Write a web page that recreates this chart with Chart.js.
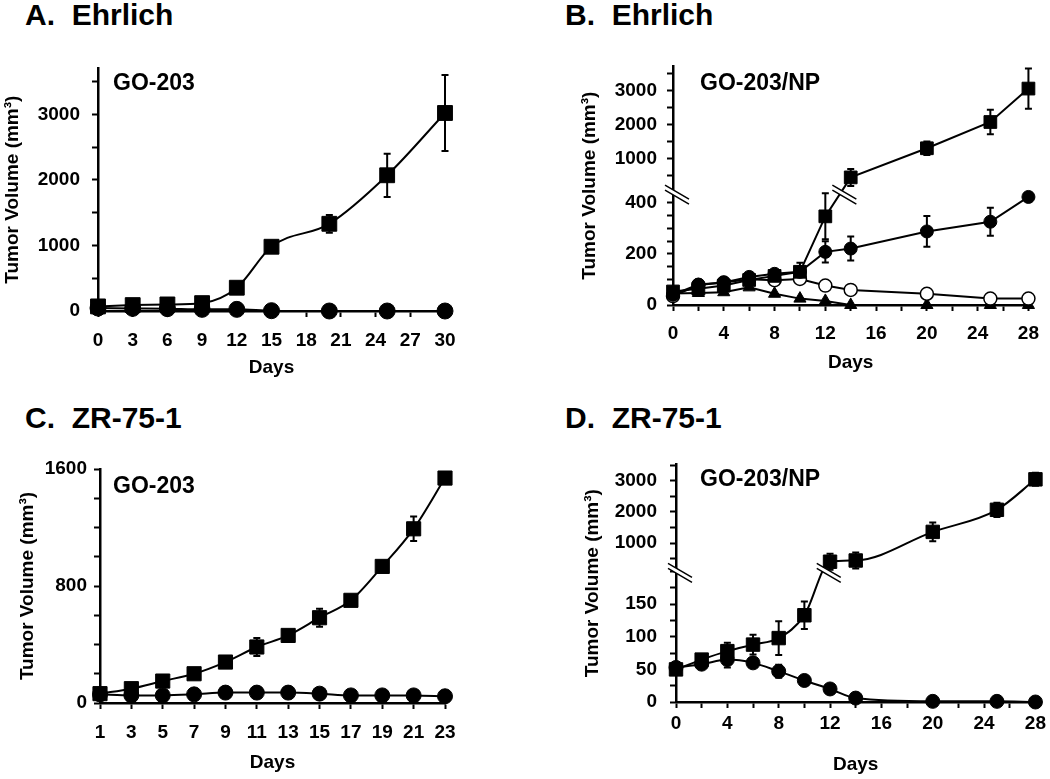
<!DOCTYPE html>
<html>
<head>
<meta charset="utf-8">
<script src="https://cdn.jsdelivr.net/npm/chart.js@4.4.1/dist/chart.umd.min.js"></script>
<style>
body { margin: 0; background: #fff; width: 1050px; height: 779px; position: relative; overflow: hidden;
       font-family: "Liberation Sans", Arial, sans-serif; }
canvas { position: absolute; }
.head { position: absolute; font-weight: bold; font-size: 30px; line-height: 30px; white-space: pre; }
.tag { position: absolute; font-weight: bold; font-size: 23px; line-height: 23px; white-space: pre; }
</style>
</head>
<body>
<div class="head" style="left:25px;top:0px">A.  Ehrlich</div>
<div class="head" style="left:565px;top:0px">B.  Ehrlich</div>
<div class="head" style="left:25px;top:403px">C.  ZR-75-1</div>
<div class="head" style="left:565px;top:403px">D.  ZR-75-1</div>

<canvas id="chartA" width="520" height="335" style="left:0;top:45px"></canvas>
<canvas id="chartB" width="525" height="335" style="left:525px;top:45px"></canvas>
<canvas id="chartC" width="520" height="339" style="left:0;top:440px"></canvas>
<canvas id="chartD" width="525" height="339" style="left:525px;top:440px"></canvas>

<div class="tag" style="left:113px;top:71px">GO-203</div>
<div class="tag" style="left:700px;top:71px">GO-203/NP</div>
<div class="tag" style="left:113px;top:474px">GO-203</div>
<div class="tag" style="left:700px;top:467px">GO-203/NP</div>

<script>
// ---- données ----

// A. Ehrlich, GO-203
var daysA = [0, 3, 6, 9, 12, 15, 20, 25, 30];
var squareA = [70, 90, 100, 120, 355, 980, 1330, 2070, 3020];
var squareAErr = [15, 15, 20, 25, 40, 80, 135, 330, 580];
var circleA = [45, 40, 35, 25, 25, 5, 0, 0, 0];
var yTicksA = [0, 500, 1000, 1500, 2000, 2500, 3000, 3500];
var yLabelsA = [0, 1000, 2000, 3000];
var xTicksA = [0, 3, 6, 9, 12, 15, 18, 21, 24, 27, 30];

// B. Ehrlich, GO-203/NP
var daysB = [0, 2, 4, 6, 8, 10, 12, 14, 20, 25, 28];
var squareB = [53, 64, 76, 98, 114, 130, 347, 446, 1300, 2070, 3050];
var squareBErr = [8, 8, 10, 12, 15, 35, 90, 250, 200, 360, 590];
var filledB = [40, 80, 88, 110, 122, 130, 208, 221, 288, 326, 423];
var filledBErr = [5, 8, 8, 10, 12, 12, 42, 47, 60, 55, 0];
var openB = [35, 78, 88, 101, 97, 102, 76, 59, 44, 25, 25];
var triangleB = [45, 47, 50, 69, 44, 25, 16, 0, 0, 0, 0];
var yTicksB = [0, 50, 100, 150, 200, 250, 300, 350, 400, 500, 1000, 1500, 2000, 2500, 3000, 3500];
var yLabelsB = [0, 200, 400, 1000, 2000, 3000];
var xTicksB = [0, 2, 4, 6, 8, 10, 12, 14, 16, 18, 20, 22, 24, 26, 28];
var xLabelsB = [0, 4, 8, 12, 16, 20, 24, 28];

// C. ZR-75-1, GO-203
var daysC = [1, 3, 5, 7, 9, 11, 13, 15, 17, 19, 21, 23];
var squareC = [64, 98, 150, 200, 280, 383, 462, 583, 702, 934, 1191, 1538];
var squareCErr = [10, 10, 15, 15, 20, 62, 30, 62, 35, 30, 84, 30];
var circleC = [59, 52, 52, 59, 71, 71, 71, 64, 52, 52, 52, 46];
var yTicksC = [0, 200, 400, 600, 800, 1000, 1200, 1400, 1600];
var yLabelsC = [0, 800, 1600];
var xTicksC = [1, 3, 5, 7, 9, 11, 13, 15, 17, 19, 21, 23];

// D. ZR-75-1, GO-203/NP
var daysD = [0, 2, 4, 6, 8, 10, 12, 14, 20, 25, 28];
var squareD = [50, 65, 78, 88, 98, 133, 400, 440, 1360, 2070, 3050];
var squareDErr = [4, 5, 13, 15, 26, 21, 260, 260, 300, 230, 210];
var circleD = [53, 58, 65, 60, 47, 33, 20, 6, 1, 1, 0];
var circleDErr = [0, 0, 12, 0, 10, 0, 0, 0, 0, 0, 0];
var yTicksD = [0, 25, 50, 75, 100, 125, 150, 175, 200, 500, 1000, 1500, 2000, 2500, 3000, 3500];
var yLabelsD = [0, 50, 100, 150, 1000, 2000, 3000];

// ---- échelle avec coupure (axe interrompu) ----
class BrokenScale extends Chart.LinearScale {
    buildTicks() {
        return (this.options.tickValues || []).map(function (v) { return { value: v }; });
    }
    isUpper(v) {
        var b = this.options.brk;
        return !!b && v > b.low;
    }
    frac(v, upper) {
        var b = this.options.brk;
        if (!b) return (v - this.min) / (this.max - this.min);
        if (upper) return b.upFrac + v / this.max * (1 - b.upFrac);
        return v / b.low * b.lowFrac;
    }
    pixelIn(v, upper) {
        return this.bottom - this.frac(v, upper) * (this.bottom - this.top);
    }
    getPixelForValue(v) {
        return this.pixelIn(v, this.isUpper(v));
    }
    getValueForPixel(p) {
        return (this.bottom - p) / (this.bottom - this.top) * this.max;
    }
}
BrokenScale.id = 'broken';
Chart.register(BrokenScale);

// barres d'erreur
var errorBars = {
    id: 'errorBars',
    beforeDatasetsDraw: function (chart) {
        var ctx = chart.ctx, xs = chart.scales.x, ys = chart.scales.y;
        ctx.save();
        ctx.strokeStyle = '#000';
        ctx.lineWidth = 2;
        chart.data.datasets.forEach(function (ds) {
            if (!ds.err) return;
            ds.data.forEach(function (p, i) {
                var e = ds.err[i];
                if (!e) return;
                var up = ys.isUpper(p.y);
                var px = xs.getPixelForValue(p.x);
                var t = ys.pixelIn(p.y + e, up), b = ys.pixelIn(Math.max(p.y - e, 0), up);
                ctx.beginPath();
                ctx.moveTo(px, t); ctx.lineTo(px, b);
                ctx.moveTo(px - 3.5, t); ctx.lineTo(px + 3.5, t);
                ctx.moveTo(px - 3.5, b); ctx.lineTo(px + 3.5, b);
                ctx.stroke();
            });
        });
        ctx.restore();
    }
};

// marques de coupure "\\" sur l'axe et sur la courbe
function drawBreak(ctx, cx, cy) {
    var dx = 12, dy = 7, g = 2.5;
    ctx.save();
    ctx.fillStyle = '#fff';
    ctx.beginPath();
    ctx.moveTo(cx - dx, cy - dy - g); ctx.lineTo(cx + dx, cy + dy - g);
    ctx.lineTo(cx + dx, cy + dy + g); ctx.lineTo(cx - dx, cy - dy + g);
    ctx.closePath();
    ctx.fill();
    ctx.strokeStyle = '#000';
    ctx.lineWidth = 1.5;
    ctx.beginPath();
    ctx.moveTo(cx - dx, cy - dy - g); ctx.lineTo(cx + dx, cy + dy - g);
    ctx.moveTo(cx - dx, cy - dy + g); ctx.lineTo(cx + dx, cy + dy + g);
    ctx.stroke();
    ctx.restore();
}
var breakMarks = {
    id: 'breakMarks',
    afterDraw: function (chart, args, opts) {
        var ys = chart.scales.y, b = ys.options.brk;
        if (!b || opts.day === undefined) return;
        var cy = (ys.pixelIn(b.low, false) + ys.pixelIn(0, true)) / 2;
        drawBreak(chart.ctx, ys.right + 4, cy);
        drawBreak(chart.ctx, chart.scales.x.getPixelForValue(opts.day), cy);
    }
};

// ---- options communes ----
var tickFont = { family: '"Liberation Sans", Arial, sans-serif', size: 19, weight: 'bold' };
var titleFont = { family: '"Liberation Sans", Arial, sans-serif', size: 19, weight: 'bold' };
var gridOpts = { drawOnChartArea: false, color: '#000', tickLength: 6, tickWidth: 2 };
var borderOpts = { color: '#000', width: 2.5 };

function pts(xs, ys) {
    return xs.map(function (x, i) { return { x: x, y: ys[i] }; });
}

function serie(xs, ys, style, radius, extra) {
    return Object.assign({
        data: pts(xs, ys),
        borderColor: '#000',
        borderWidth: 2,
        pointStyle: style,
        pointRadius: radius,
        pointBackgroundColor: '#000',
        pointBorderColor: '#000',
        pointBorderWidth: 1,
        clip: false,
        tension: 0
    }, extra || {});
}

function makeChart(id, p) {
    return new Chart(document.getElementById(id), {
        type: 'line',
        data: { datasets: p.datasets },
        options: {
            responsive: false,
            animation: false,
            layout: { padding: p.padding },
            plugins: { legend: { display: false }, tooltip: { enabled: false }, breakMarks: { day: p.breakDay } },
            scales: {
                x: {
                    type: 'linear', min: p.xMin, max: p.xMax,
                    afterBuildTicks: function (s) { s.ticks = p.xTicks.map(function (v) { return { value: v }; }); },
                    afterFit: function (s) { s.height = p.xHeight; },
                    border: borderOpts, grid: gridOpts,
                    ticks: {
                        color: '#000', font: tickFont, padding: p.xPad, autoSkip: false, maxRotation: 0,
                        callback: function (v) { return p.xLabels.indexOf(v) >= 0 ? String(v) : ''; }
                    },
                    title: { display: true, text: 'Days', color: '#000', font: titleFont, padding: { top: 0, bottom: p.xTitlePad } }
                },
                y: {
                    type: 'broken', min: 0, max: p.yMax, brk: p.brk || null, tickValues: p.yTicks,
                    afterFit: function (s) { s.width = p.yWidth; },
                    border: borderOpts, grid: gridOpts,
                    ticks: {
                        color: '#000', font: tickFont, padding: p.yPad, autoSkip: false,
                        callback: function (v) { return p.yLabels.indexOf(v) >= 0 ? String(v) : ''; }
                    },
                    title: { display: true, text: 'Tumor Volume (mm³)', color: '#000', font: titleFont, padding: { top: p.yTitlePad, bottom: 0 } }
                }
            }
        },
        plugins: [errorBars, breakMarks]
    });
}

var smooth = { cubicInterpolationMode: 'monotone' };

// A
makeChart('chartA', {
    datasets: [
        serie(daysA, squareA, 'rect', 10.5, Object.assign({ err: squareAErr }, smooth)),
        serie(daysA, circleA, 'circle', 8, smooth)
    ],
    padding: { left: 0, right: 75, top: 17, bottom: 0 },
    xMin: 0, xMax: 30, xTicks: xTicksA, xLabels: xTicksA, xHeight: 69, xPad: 12, xTitlePad: 0.6,
    yMax: 3700, yTicks: yTicksA, yLabels: yLabelsA, yWidth: 98, yPad: 12, yTitlePad: 1.6
});

// B
makeChart('chartB', {
    datasets: [
        serie(daysB, squareB, 'rect', 9, { err: squareBErr }),
        serie(daysB, filledB, 'circle', 6.5, { err: filledBErr }),
        serie(daysB, openB, 'circle', 6.5, { pointBackgroundColor: '#fff', pointBorderWidth: 1.5 }),
        serie(daysB, triangleB, 'triangle', 7)
    ],
    padding: { left: 52, right: 13, top: 13, bottom: 0 },
    xMin: 0, xMax: 28, xTicks: xTicksB, xLabels: xLabelsB, xHeight: 75, xPad: 11, xTitlePad: 5.6,
    yMax: 3700, brk: { low: 425, lowFrac: 0.455, upFrac: 0.471 },
    yTicks: yTicksB, yLabels: yLabelsB, yWidth: 96, yPad: 10, yTitlePad: 1.6,
    breakDay: 13.5
});

// C
makeChart('chartC', {
    datasets: [
        serie(daysC, squareC, 'rect', 10, Object.assign({ err: squareCErr }, smooth)),
        serie(daysC, circleC, 'circle', 7.5, smooth)
    ],
    padding: { left: 0, right: 75, top: 29, bottom: 0 },
    xMin: 1, xMax: 23, xTicks: xTicksC, xLabels: xTicksC, xHeight: 76, xPad: 12, xTitlePad: 4.6,
    yMax: 1600, yTicks: yTicksC, yLabels: yLabelsC, yWidth: 100, yPad: 7, yTitlePad: 16.6
});

// D
makeChart('chartD', {
    datasets: [
        serie(daysD, squareD, 'rect', 9.5, Object.assign({ err: squareDErr }, smooth)),
        serie(daysD, circleD, 'circle', 7, Object.assign({ err: circleDErr }, smooth))
    ],
    padding: { left: 52, right: 12, top: 20, bottom: 0 },
    xMin: 0, xMax: 28, xTicks: xTicksB, xLabels: xLabelsB, xHeight: 77, xPad: 4, xTitlePad: 2.6,
    yMax: 3530, brk: { low: 200, lowFrac: 0.549, upFrac: 0.538 },
    yTicks: yTicksD, yLabels: yLabelsD, yWidth: 99, yPad: 13, yTitlePad: 4.6,
    breakDay: 11.9
});
</script>
</body>
</html>
